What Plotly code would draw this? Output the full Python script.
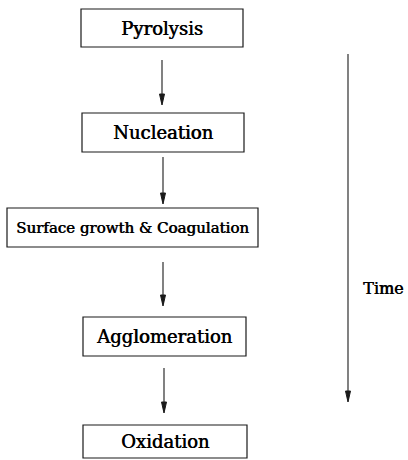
import plotly.graph_objects as go

# Data: stages of the process (top to bottom)
stages = ["Pyrolysis", "Nucleation", "Surface growth & Coagulation", "Agglomeration", "Oxidation"]
axis_label = "Time"

# Layout geometry (pixels in a 408x460 canvas)
box_x = [(81, 243), (82, 244), (7, 258), (83, 246), (83, 247)]
box_y = [(9, 47), (113, 152), (208, 247), (317, 356), (425, 458)]
label_size = [18, 18, 15, 18, 18]
arrow_x = [162, 163, 163, 164]
arrow_y = [(60, 105), (157, 204), (262, 306), (368, 413)]
time_x = 348
time_y = (54, 402)

W, H = 408, 460
fig = go.Figure()
fig.add_trace(go.Scatter(x=[0, W], y=[0, H], mode="markers", marker=dict(opacity=0), hoverinfo="skip", showlegend=False))

shapes = []
annotations = []
line_col = "#1a1a1a"
shadow = "0.6px 0px 0px #000000"

for name, (x0, x1), (y0, y1), fs in zip(stages, box_x, box_y, label_size):
    shapes.append(dict(type="rect", x0=x0, x1=x1, y0=y0, y1=y1, xref="x", yref="y",
                       line=dict(color=line_col, width=1.2), fillcolor="rgba(0,0,0,0)"))
    annotations.append(dict(x=(x0 + x1) / 2, y=(y0 + y1) / 2, xref="x", yref="y", text=name,
                            showarrow=False,
                            font=dict(family="DejaVu Serif", size=fs, color="#000000", shadow=shadow)))

def arrow(x, y0, y1, head_len=11, half_w=2.5):
    shapes.append(dict(type="line", x0=x, x1=x, y0=y0, y1=y1 - 2, xref="x", yref="y",
                       line=dict(color=line_col, width=1.1)))
    shapes.append(dict(type="path", xref="x", yref="y",
                       path=f"M {x - half_w} {y1 - head_len} L {x + half_w} {y1 - head_len} L {x} {y1} Z",
                       fillcolor=line_col, line=dict(color=line_col, width=1)))

for x, (y0, y1) in zip(arrow_x, arrow_y):
    arrow(x, y0, y1)
arrow(time_x, time_y[0], time_y[1])

annotations.append(dict(x=383, y=288, xref="x", yref="y", text=axis_label, showarrow=False,
                        font=dict(family="DejaVu Serif", size=16, color="#000000", shadow=shadow)))

fig.update_layout(
    width=W, height=H, margin=dict(l=0, r=0, t=0, b=0),
    plot_bgcolor="white", paper_bgcolor="white",
    xaxis=dict(range=[0, W], visible=False, fixedrange=True),
    yaxis=dict(range=[H, 0], visible=False, fixedrange=True),
    shapes=shapes, annotations=annotations, showlegend=False,
)
fig.write_html("out.html", config={"displayModeBar": False},
               post_script="document.body.style.margin='0';")
